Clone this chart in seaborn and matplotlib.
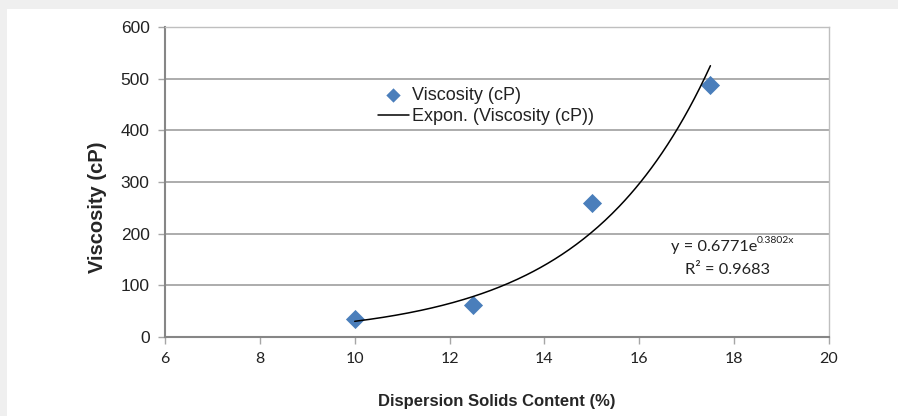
import numpy as np
import pandas as pd
import matplotlib
matplotlib.use("Agg")
import matplotlib.pyplot as plt
from matplotlib.patches import Rectangle
import seaborn as sns

# values
solids = [10, 12.5, 15, 17.5]
viscosity = [34, 61, 260, 487]
fit_a = 0.6771
fit_b = 0.3802
fit_r2 = 0.9683
x_ticks = [6, 8, 10, 12, 14, 16, 18, 20]
y_ticks = [0, 100, 200, 300, 400, 500, 600]

df = pd.DataFrame({"solids": solids, "visc": viscosity})
xs = np.linspace(min(solids), max(solids), 200)
trend = pd.DataFrame({"solids": xs, "visc": fit_a * np.exp(fit_b * xs)})

sns.set_style("white")
plt.rcParams["font.family"] = ["Liberation Sans", "DejaVu Sans"]

fig = plt.figure(figsize=(8.98, 4.16), dpi=100, facecolor="#efefef")
fig.patches.append(Rectangle((7 / 898, 0), 1, (416 - 9) / 416, transform=fig.transFigure,
                             facecolor="white", edgecolor="none", zorder=-10))
ax = fig.add_axes([165 / 898, 1 - 337 / 416, 664 / 898, 310 / 416])
ax.set_zorder(5)
ax.set_facecolor("white")

sns.scatterplot(data=df, x="solids", y="visc", marker="D", s=95, color="#4a7ebb",
                edgecolor="#4a7ebb", linewidth=0, ax=ax, label="Viscosity (cP)", zorder=3)
sns.lineplot(data=trend, x="solids", y="visc", color="black", linewidth=1.1, ax=ax,
             label="Expon. (Viscosity (cP))", zorder=4)

ax.set_xlim(6, 20)
ax.set_ylim(0, 600)
ax.set_xticks(x_ticks)
ax.set_yticks(y_ticks)
ax.set_xticklabels([str(t) for t in x_ticks], fontfamily="Lato", fontsize=11.5, color="#222222")
ax.set_yticklabels([str(t) for t in y_ticks], fontsize=12.5, color="#222222")
ax.yaxis.grid(True, color="#a6a6a6", linewidth=1.3)
ax.xaxis.grid(False)
ax.set_axisbelow(True)
for s in ["top", "right"]:
    ax.spines[s].set_color("#bfbfbf")
    ax.spines[s].set_linewidth(1.0)
for s in ["left", "bottom"]:
    ax.spines[s].set_color("#868686")
    ax.spines[s].set_linewidth(1.5)
ax.tick_params(axis="both", which="major", length=5, width=1, color="#a6a6a6",
               direction="out", left=True, bottom=True, pad=6)

ax.set_xlabel("Dispersion Solids Content (%)", fontsize=12, fontweight="bold", labelpad=20)
ax.set_ylabel("Viscosity (cP)", fontsize=14.5, fontweight="bold")
ax.yaxis.set_label_coords(-0.088, 0.42)

leg = ax.legend(loc="upper left", bbox_to_anchor=(0.31, 0.83), frameon=False,
                fontsize=13, handlelength=1.7, handletextpad=0.2, labelspacing=0.25,
                borderaxespad=0, markerscale=0.75)
for t in leg.get_texts():
    t.set_color("#222222")

# trendline equation
ax.annotate("y = 0.6771e", xy=(18.48, 174), ha="right", va="center", fontsize=11.8,
            fontfamily="Lato", color="#222222")
ax.annotate(f"{fit_b:.4f}x", xy=(18.48, 174), xytext=(0, 5), textcoords="offset points",
            ha="left", va="center", fontsize=7.5, fontfamily="Lato", color="#222222")
ax.annotate(f"R\u00b2 = {fit_r2}", xy=(17.86, 130), ha="center", va="center", fontsize=11.8,
            fontfamily="Lato", color="#222222")

fig.savefig("out.png", dpi=100, facecolor=fig.get_facecolor())
